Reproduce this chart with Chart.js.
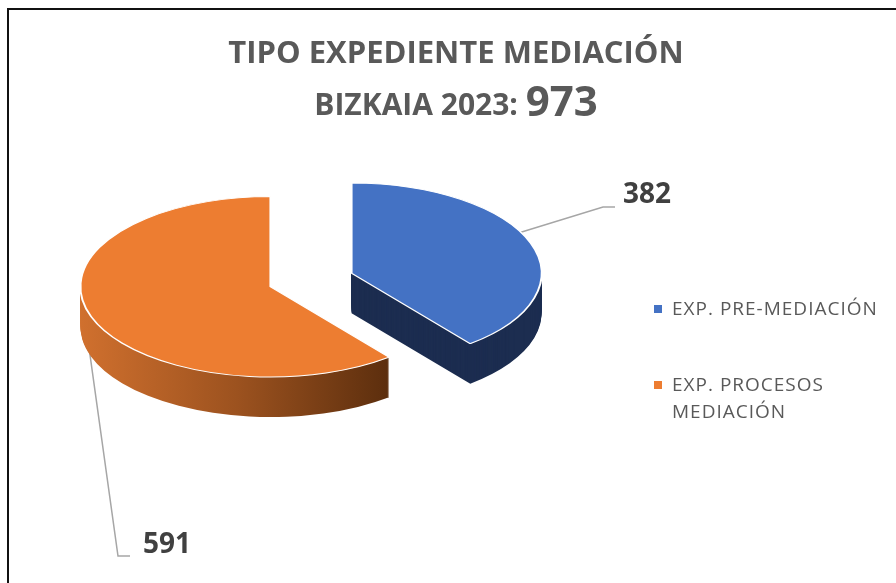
<!DOCTYPE html>
<html>
<head>
<meta charset="utf-8">
<script src="https://cdn.jsdelivr.net/npm/chart.js@4"></script>
<style>
  html, body { margin: 0; padding: 0; background: #fff; overflow: hidden; }
  #frame { position: absolute; left: 7px; top: 8px; width: 1000px; height: 1000px; border-left: 2px solid #111; border-top: 2px solid #111; }
  #wrap { position: absolute; left: 0; top: 0; width: 896px; height: 583px; }
</style>
</head>
<body>
<div id="frame"></div>
<div id="wrap"><canvas id="pieChart" width="896" height="583"></canvas></div>
<script>
const categories = ['EXP. PRE-MEDIACIÓN', 'EXP. PROCESOS MEDIACIÓN'];
const counts = [382, 591];
const titleLine1 = 'TIPO EXPEDIENTE MEDIACIÓN';
const titleLine2 = 'BIZKAIA 2023: ';
const topColors = ['#4472c4', '#ed7d31'];

const total = counts.reduce((a, b) => a + b, 0);

// look of the fake 3D pie
const TILT = 0.475;
const DEPTH = 40;
const EXPLODE = 43;
const TEXT = '#595959';
const FONT = '"Open Sans", "DejaVu Sans", sans-serif';

// leader lines: where they leave the slice (deg clockwise from 12 o'clock), elbow and text spot
const leaders = [
  { from: 63, elbow: [603, 207], end: [615, 207], text: [623, 203] },
  { from: 262, elbow: [118, 556], end: [130, 556], text: [143, 553] },
];

const rad = d => d * Math.PI / 180;

const sliceCenter = (el) => {
  const mid = (el.startAngle + el.endAngle) / 2;
  return { x: el.x + EXPLODE * Math.cos(mid), y: el.y + TILT * EXPLODE * Math.sin(mid) };
};

const sideFill = (ctx, el, i) => {
  if (i === 0) return '#1c2d50';
  const g = ctx.createLinearGradient(el.x - el.outerRadius, 0, el.x + el.outerRadius * 0.65, 0);
  g.addColorStop(0, '#d0702e');
  g.addColorStop(0.5, '#9c521f');
  g.addColorStop(1, '#5a2d0d');
  return g;
};

const drawSlice = (ctx, el, fill, lift, border) => {
  const mid = (el.startAngle + el.endAngle) / 2;
  ctx.save();
  ctx.translate(0, lift);
  ctx.translate(0, el.y);
  ctx.scale(1, TILT);
  ctx.translate(0, -el.y);
  ctx.translate(EXPLODE * Math.cos(mid), EXPLODE * Math.sin(mid));
  const fake = Object.create(el);
  fake.options = Object.assign({}, el.options, {
    backgroundColor: fill === null ? el.options.backgroundColor : (typeof fill === 'function' ? fill(ctx) : fill),
    borderWidth: border,
  });
  el.draw.call(fake, ctx);
  ctx.restore();
};

const pie3d = {
  id: 'pie3d',
  beforeDatasetsDraw(chart) {
    const ctx = chart.ctx;
    const arcs = chart.getDatasetMeta(0).data;

    // leader lines sit behind the slices
    ctx.save();
    ctx.strokeStyle = '#a6a6a6';
    ctx.lineWidth = 1.5;
    arcs.forEach((el, i) => {
      const L = leaders[i];
      const c = sliceCenter(el);
      const a = rad(L.from - 90);
      ctx.beginPath();
      ctx.moveTo(c.x + el.outerRadius * Math.cos(a), c.y + TILT * el.outerRadius * Math.sin(a));
      ctx.lineTo(L.elbow[0], L.elbow[1]);
      ctx.lineTo(L.end[0], L.end[1]);
      ctx.stroke();
    });
    ctx.restore();

    // side walls: stacked copies pushed down
    arcs.forEach((el, i) => {
      for (let d = DEPTH; d >= 1; d--) drawSlice(ctx, el, (c) => sideFill(c, el, i), d, 0);
    });
    // top faces
    arcs.forEach((el) => drawSlice(ctx, el, null, 0, 2));
    return false;
  },
  afterDraw(chart) {
    const ctx = chart.ctx;
    const arcs = chart.getDatasetMeta(0).data;
    ctx.save();

    // title
    ctx.fillStyle = TEXT;
    ctx.textBaseline = 'alphabetic';
    ctx.textAlign = 'center';
    ctx.font = `bold 31px ${FONT}`;
    ctx.fillText(titleLine1, 456, 63);
    ctx.font = `bold 30px ${FONT}`;
    const w1 = ctx.measureText(titleLine2).width;
    ctx.font = `bold 42px ${FONT}`;
    const w2 = ctx.measureText(String(total)).width;
    const x0 = 456 - (w1 + w2) / 2;
    ctx.textAlign = 'left';
    ctx.font = `bold 30px ${FONT}`;
    ctx.fillText(titleLine2, x0, 115);
    ctx.font = `bold 42px ${FONT}`;
    ctx.fillText(String(total), x0 + w1, 116);

    // data labels
    ctx.fillStyle = '#404040';
    ctx.font = `bold 28px ${FONT}`;
    arcs.forEach((el, i) => {
      const L = leaders[i];
      ctx.fillText(String(chart.data.datasets[0].data[i]), L.text[0], L.text[1]);
    });

    // legend
    ctx.font = `19px ${FONT}`;
    ctx.letterSpacing = '1px';
    const legendTops = [315, 391];
    chart.data.labels.forEach((label, i) => {
      const words = label.split(' ');
      const lines = [];
      let cur = '';
      words.forEach(w => {
        const t = cur ? cur + ' ' + w : w;
        if (cur && ctx.measureText(t).width > 215) { lines.push(cur); cur = w; } else cur = t;
      });
      lines.push(cur);
      ctx.fillStyle = topColors[i];
      ctx.fillRect(654, legendTops[i] - 10, 8, 8);
      ctx.fillStyle = TEXT;
      lines.forEach((ln, j) => ctx.fillText(ln, 672, legendTops[i] + j * 27));
    });
    ctx.restore();
  }
};

new Chart(document.getElementById('pieChart'), {
  type: 'pie',
  data: {
    labels: categories,
    datasets: [{
      data: counts,
      backgroundColor: topColors,
      borderColor: '#ffffff',
      borderWidth: 2,
    }]
  },
  options: {
    responsive: false,
    animation: false,
    radius: 190,
    layout: { padding: { left: 121, right: 395, top: 90, bottom: 113 } },
    plugins: { legend: { display: false }, title: { display: false }, tooltip: { enabled: false } },
  },
  plugins: [pie3d],
});
</script>
</body>
</html>
